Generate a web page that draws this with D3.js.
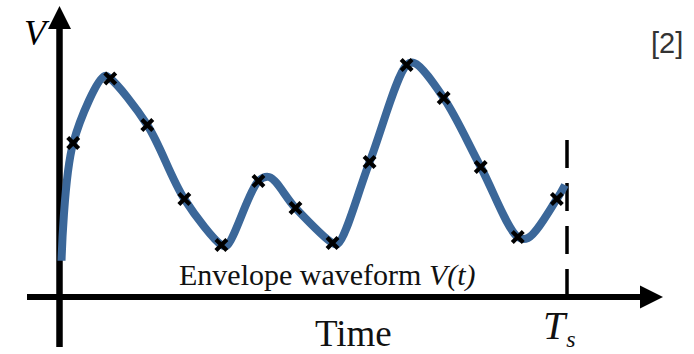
<!DOCTYPE html>
<html>
<head>
<meta charset="utf-8">
<script src="https://cdn.jsdelivr.net/npm/d3@7"></script>
<style>
  html, body { margin: 0; padding: 0; background: #fff; }
  svg { display: block; }
</style>
</head>
<body>
<svg id="chart" width="694" height="354"></svg>
<script>
// Envelope V(t) over one symbol period, time in % of Ts
const Ts = 100;
const envelopeTime  = [0.4, 2.7, 8.9, 10.0, 17.3, 24.6, 31.9, 32.9, 39.2, 41.3, 46.5, 53.8, 54.8, 61.1, 68.4, 69.9, 75.7, 83.0, 90.3, 92.3, 98.0, 99.6];
const envelopeValue = [0.145, 0.616, 0.884, 0.874, 0.688, 0.392, 0.208, 0.204, 0.464, 0.48, 0.356, 0.216, 0.212, 0.54, 0.928, 0.936, 0.796, 0.52, 0.24, 0.236, 0.392, 0.448];

// Sampled points marked with crosses
const sampleTime  = [2.7, 10.0, 17.3, 24.6, 31.9, 39.2, 46.5, 53.8, 61.1, 68.4, 75.7, 83.0, 90.3, 98.0];
const sampleValue = [0.616, 0.874, 0.688, 0.392, 0.208, 0.464, 0.356, 0.216, 0.54, 0.928, 0.796, 0.52, 0.24, 0.392];

const svg = d3.select("#chart");

const x = d3.scaleLinear().domain([0, Ts]).range([59.5, 567]);
const y = d3.scaleLinear().domain([0, 1]).range([297, 47]);

const x0 = x(0), y0 = y(0);

// Axes with arrow heads
const axisColor = "#000";
svg.append("line")
  .attr("x1", 27).attr("x2", 642).attr("y1", y0).attr("y2", y0)
  .attr("stroke", axisColor).attr("stroke-width", 6);
svg.append("path")
  .attr("d", `M${640},${y0 - 11.5} L${663},${y0} L${640},${y0 + 11.5} Z`)
  .attr("fill", axisColor);

svg.append("line")
  .attr("x1", x0).attr("x2", x0).attr("y1", 347).attr("y2", 26)
  .attr("stroke", axisColor).attr("stroke-width", 6.5);
svg.append("path")
  .attr("d", `M${x0 - 11.5},${29} L${x0},${6} L${x0 + 11.5},${29} Z`)
  .attr("fill", axisColor);

// Period boundary Ts
svg.append("line")
  .attr("x1", x(Ts)).attr("x2", x(Ts)).attr("y1", 140).attr("y2", y0)
  .attr("stroke", "#000").attr("stroke-width", 3.5)
  .attr("stroke-dasharray", "28,15");

// Envelope curve
const envelope = d3.zip(envelopeTime, envelopeValue);
const line = d3.line()
  .x(d => x(d[0]))
  .y(d => y(d[1]))
  .curve(d3.curveCatmullRom.alpha(0.5));

svg.append("path")
  .datum(envelope)
  .attr("d", line)
  .attr("fill", "none")
  .attr("stroke", "#3b6799")
  .attr("stroke-width", 8);

// Sample markers
const samples = d3.zip(sampleTime, sampleValue);
svg.append("g")
  .selectAll("path")
  .data(samples)
  .join("path")
  .attr("transform", d => `translate(${x(d[0])},${y(d[1])})`)
  .attr("d", d3.symbol(d3.symbolTimes, 80))
  .attr("fill", "none")
  .attr("stroke", "#000")
  .attr("stroke-width", 4.2);

// Labels
const serif = "'Liberation Serif', 'Times New Roman', serif";

svg.append("text")
  .attr("x", 24).attr("y", 45)
  .attr("font-family", serif).attr("font-style", "italic")
  .attr("font-size", 36).attr("fill", "#000")
  .text("V");

const env = svg.append("text")
  .attr("x", 179).attr("y", 285)
  .attr("font-family", serif).attr("font-size", 30).attr("fill", "#111");
env.append("tspan").text("Envelope waveform ");
env.append("tspan").attr("font-style", "italic").text("V(t)");

svg.append("text")
  .attr("x", 315).attr("y", 346)
  .attr("font-family", serif).attr("font-size", 37).attr("fill", "#111")
  .text("Time");

const ts = svg.append("text")
  .attr("x", 543).attr("y", 339)
  .attr("font-family", serif).attr("font-style", "italic")
  .attr("font-size", 40).attr("fill", "#111");
ts.append("tspan").text("T");
ts.append("tspan").attr("font-size", 24).attr("dy", 8).attr("dx", 1).text("s");

svg.append("text")
  .attr("x", 651).attr("y", 53)
  .attr("font-family", "'Liberation Sans', Arial, sans-serif")
  .attr("font-size", 29).attr("fill", "#333")
  .text("[2]");
</script>
</body>
</html>
